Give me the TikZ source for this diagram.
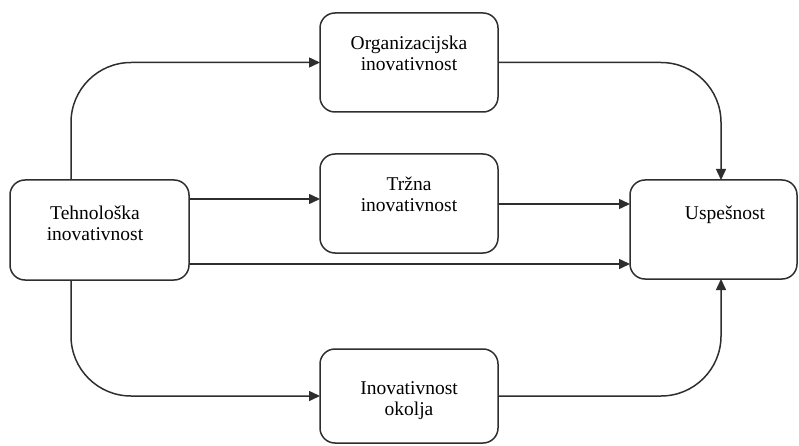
\documentclass[tikz,border=0pt]{standalone}
\usepackage{fontspec}
\setmainfont{Liberation Serif}
\newfontfamily\labelfont{Liberation Serif}
\usetikzlibrary{arrows.meta,calc}
\definecolor{ink}{HTML}{2E2E2E}
\begin{document}
\begin{tikzpicture}[x=1pt,y=-1pt,
  box/.style={draw=ink,line width=1.5pt,rounded corners=15pt,inner sep=0pt,outer sep=0pt},
  lbl/.style={align=center,inner sep=0pt,text=black,font=\labelfont\fontsize{19.5}{21}\selectfont},
  link/.style={draw=ink,line width=1.5pt,-{Triangle[length=11pt,width=10pt]}},
  curvelink/.style={link,rounded corners=60pt}]
\useasboundingbox (0,0) rectangle (799,446);

% boxes
\node[box,minimum width=179pt,minimum height=100pt] (teh) at (99.5,230) {};
\node[box,minimum width=178pt,minimum height=99pt]  (org) at (409,62.5) {};
\node[box,minimum width=178pt,minimum height=99pt]  (trz) at (409,203.5) {};
\node[box,minimum width=178pt,minimum height=94pt]  (oko) at (409,396) {};
\node[box,minimum width=167pt,minimum height=99pt]  (usp) at (713.5,229.5) {};

% labels
\node[lbl] (tehT) at (95,223) {Tehnološka\\inovativnost};
\node[lbl] (orgT) at (409,53) {Organizacijska\\inovativnost};
\node[lbl] (trzT) at (409,194) {Tržna\\inovativnost};
\node[lbl] (okoT) at (409,401) {Inovativnost\\okolja};
\node[lbl] (uspT) at (725,215) {Uspešnost};

% connectors
\draw[curvelink] (teh.north -| 71,0) |- (org.west);
\draw[curvelink] (org.east) -| (usp.north -| 721,0);
\draw[link] (teh.east |- 0,199) -- (trz.west |- 0,199);
\draw[link] (trz.east |- 0,204) -- (usp.west |- 0,204);
\draw[link] (teh.east |- 0,264) -- (usp.west |- 0,264);
\draw[curvelink] (teh.south -| 71,0) |- (oko.west);
\draw[curvelink] (oko.east) -| (usp.south -| 721,0);
\end{tikzpicture}
\end{document}
